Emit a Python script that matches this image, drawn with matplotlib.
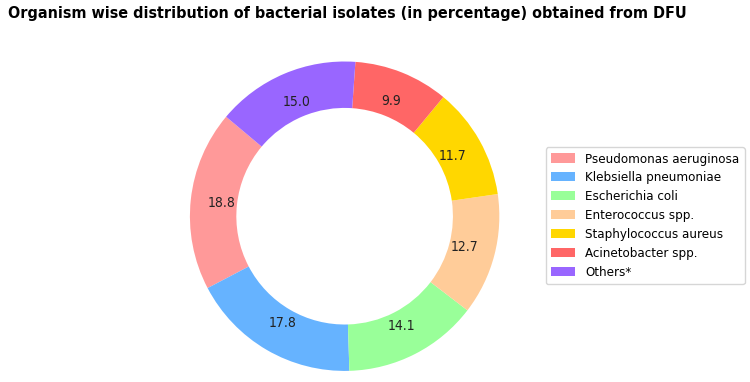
import matplotlib
matplotlib.use("Agg")
import matplotlib.pyplot as plt

# Organism wise distribution of bacterial isolates (%) from DFU
organisms = ['Pseudomonas aeruginosa', 'Klebsiella pneumoniae', 'Escherichia coli',
             'Enterococcus spp.', 'Staphylococcus aureus', 'Acinetobacter spp.', 'Others*']
percentages = [18.8, 17.8, 14.1, 12.7, 11.7, 9.9, 15.0]
colors = ['#ff9999', '#66b3ff', '#99ff99', '#ffcc99', '#ffd700', '#ff6666', '#9966ff']

plt.rcParams['font.family'] = 'DejaVu Sans'
plt.rcParams['font.stretch'] = 'condensed'

fig = plt.figure(figsize=(7.5, 3.82), dpi=100)
ax = fig.add_axes([0.253, 0.029, 0.413, 0.81])

wedges, texts, autotexts = ax.pie(percentages, colors=colors, startangle=140,
                                  autopct='%1.1f', pctdistance=0.8,
                                  wedgeprops=dict(width=0.3),
                                  textprops=dict(fontsize=10, color='#222222'))
ax.set_aspect('equal')
ax.set_xlim(-1, 1)
ax.set_ylim(-1, 1)

fig.text(0.0107, 0.953, "Organism wise distribution of bacterial isolates (in percentage) obtained from DFU",
         fontsize=11.5, fontweight='bold', ha='left', va='baseline')

ax.legend(wedges, organisms, loc='center left', bbox_to_anchor=(0.719, 0.435),
          bbox_transform=fig.transFigure, fontsize=9.5, frameon=True,
          labelspacing=0.45, handlelength=1.8)

fig.savefig("out.png", dpi=100)
